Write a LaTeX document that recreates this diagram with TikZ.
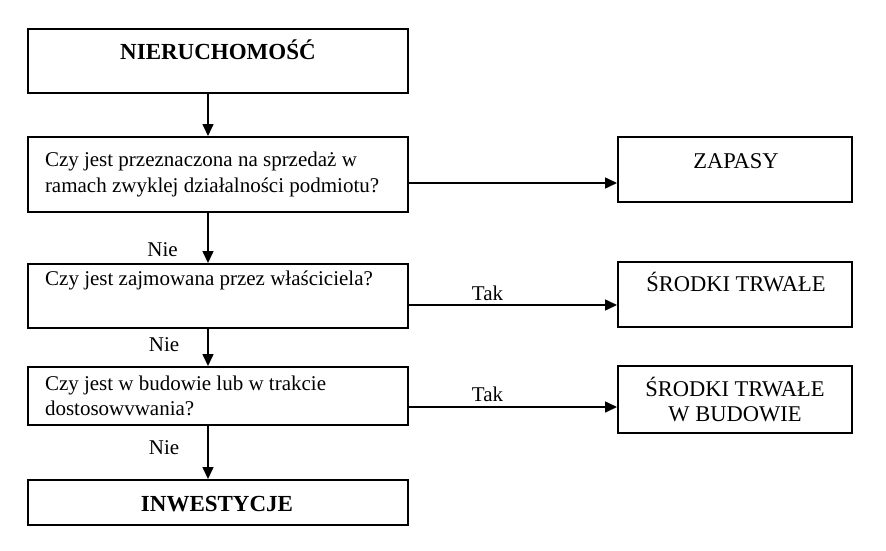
\documentclass[tikz,border=0pt]{standalone}
\usepackage{fontspec}
\setmainfont{Liberation Serif}
\usetikzlibrary{arrows.meta}
\begin{document}
\begin{tikzpicture}[x=1pt,y=-1pt,
    box/.style={draw,line width=2pt},
    arr/.style={line width=1.6pt,-{Triangle[length=12pt,width=11pt]}},
    txt/.style={inner sep=0pt,font=\fontsize{21}{25.5}\selectfont},
    big/.style={inner sep=0pt,font=\fontsize{22.5}{25.7}\selectfont},
    head/.style={inner sep=0pt,font=\fontsize{23}{27}\selectfont\bfseries}]
  \useasboundingbox (0,0) rectangle (886,551);
  \node[box,minimum width=380pt,minimum height=64pt] (nier) at (218,61) {};
  \node[head,anchor=base] (nier-t) at (218,59.3) {NIERUCHOMOŚĆ};
  \node[txt,box,text width=346pt,inner xsep=17pt,minimum height=75pt,align=flush left] (q1) at (218,174.5)
    {Czy jest przeznaczona na sprzedaż w\\ramach zwyklej działalności podmiotu?};
  \node[box,minimum width=380pt,minimum height=64pt] (q2) at (218,296) {};
  \node[txt,anchor=base west] (q2-t) at (45,285.5) {Czy jest zajmowana przez właściciela?};
  \node[txt,box,text width=346pt,inner xsep=17pt,minimum height=58pt,align=flush left] (q3) at (218,396)
    {Czy jest w budowie lub w trakcie\\dostosowvwania?};
  \node[box,minimum width=380pt,minimum height=45pt] (inw) at (218,502.5) {};
  \node[head,anchor=base] (inw-t) at (217,511.7) {INWESTYCJE};
  \node[box,minimum width=234pt,minimum height=65pt] (zap) at (735,169.5) {};
  \node[big,anchor=base] (zap-t) at (736,168.3) {ZAPASY};
  \node[box,minimum width=234pt,minimum height=65pt] (st) at (735,294.5) {};
  \node[big,anchor=base] (st-t) at (736,291.7) {ŚRODKI TRWAŁE};
  \node[big,box,minimum width=234pt,minimum height=67pt,align=center] (stb) at (735,399.5)
    {ŚRODKI TRWAŁE\\W BUDOWIE};
  \draw[arr] ([xshift=-10pt]nier.south) -- ([xshift=-10pt]q1.north);
  \draw[arr] ([xshift=-10pt]q1.south) -- ([xshift=-10pt]q2.north);
  \draw[arr] ([xshift=-10pt]q2.south) -- ([xshift=-10pt]q3.north);
  \draw[arr] ([xshift=-10pt]q3.south) -- ([xshift=-10pt]inw.north);
  \node[txt,anchor=base] (nie1) at (162.5,256.5) {Nie};
  \node[txt,anchor=base] (nie2) at (164,351.7) {Nie};
  \node[txt,anchor=base] (nie3) at (164,454) {Nie};
  \draw[arr] ([yshift=-8.5pt]q1.east) -- ([yshift=-8.5pt]q1.east -| zap.west);
  \draw[arr] ([yshift=-9pt]q2.east) -- ([yshift=-9pt]q2.east -| st.west);
  \draw[arr] ([yshift=-11pt]q3.east) -- ([yshift=-11pt]q3.east -| stb.west);
  \node[txt,anchor=base] (tak1) at (487.5,300) {Tak};
  \node[txt,anchor=base] (tak2) at (487.5,401.7) {Tak};
\end{tikzpicture}
\end{document}
